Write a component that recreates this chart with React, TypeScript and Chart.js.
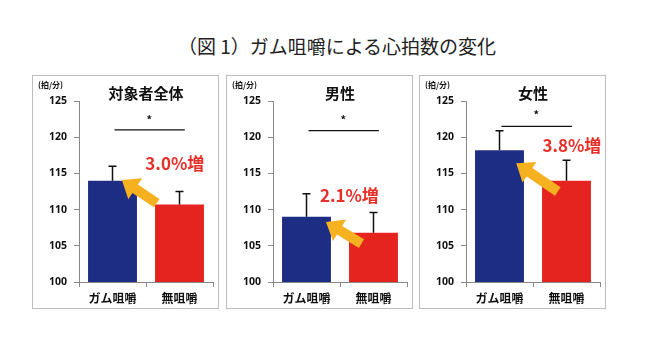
import React, { useEffect, useRef } from "react";
import { Chart, registerables } from "chart.js";

Chart.register(...registerables);

const figureTitle = "（図 1）ガム咀嚼による心拍数の変化";
const panelTitles = ["対象者全体", "男性", "女性"];
const categories = ["ガム咀嚼", "無咀嚼"];
const gumMeans = [114.0, 109.0, 118.2];
const noGumMeans = [110.7, 106.8, 114.0];
const gumErrTop = [116.0, 112.2, 120.9];
const noGumErrTop = [112.5, 109.6, 116.8];
const increaseLabels = ["3.0%増", "2.1%増", "3.8%増"];
const unitLabel = "(拍/分)";
const yMin = 100;
const yMax = 125;
const yStep = 5;
// annotation anchors in data units (category index, value)
const sigLineValue = [121.0, 120.9, 121.5];
const sigStarValue = [122.7, 122.7, 123.4];
const labelAnchorX = [0.93, 0.64, 1.08];
const labelAnchorY = [116.4, 112.0, 118.8];
const arrowTailX = [0.66, 0.82, 0.87];
const arrowTailY = [110.9, 105.3, 112.5];
const arrowTipX = [0.14, 0.29, 0.25];
const arrowTipY = [114.1, 108.3, 116.4];

const BLUE = "#1e2d84";
const RED = "#e52420";
const YELLOW = "#f5b120";
const CJK = "'Noto Sans CJK JP', 'Noto Sans', sans-serif";

const panelLefts = [32, 226, 419];

function Panel({ idx }: { idx: number }) {
  const ref = useRef<HTMLCanvasElement | null>(null);
  useEffect(() => {
    const canvas = ref.current;
    if (!canvas) return;
    const overlay = {
      id: "overlay" + idx,
      afterDatasetsDraw(chart: any) {
        const ctx = chart.ctx;
        const xs = chart.scales.x;
        const ys = chart.scales.y;
        const area = chart.chartArea;
        const meta = chart.getDatasetMeta(0);
        const tops = [gumErrTop[idx], noGumErrTop[idx]];
        ctx.save();
        // error bars
        ctx.strokeStyle = "#111";
        ctx.lineWidth = 1.5;
        meta.data.forEach((bar: any, i: number) => {
          const yTop = ys.getPixelForValue(tops[i]);
          ctx.beginPath();
          ctx.moveTo(bar.x, bar.y);
          ctx.lineTo(bar.x, yTop);
          ctx.moveTo(bar.x - 4, yTop);
          ctx.lineTo(bar.x + 4, yTop);
          ctx.stroke();
        });
        // significance line
        const ly = ys.getPixelForValue(sigLineValue[idx]);
        ctx.lineWidth = 1.3;
        ctx.beginPath();
        ctx.moveTo(xs.getPixelForValue(0.03), ly);
        ctx.lineTo(xs.getPixelForValue(1.08), ly);
        ctx.stroke();
        ctx.fillStyle = "#111";
        ctx.font = "bold 11px " + CJK;
        ctx.textAlign = "center";
        ctx.textBaseline = "middle";
        ctx.fillText("*", xs.getPixelForValue(0.55), ys.getPixelForValue(sigStarValue[idx]) + 2);
        // arrow
        const x1 = xs.getPixelForValue(arrowTailX[idx]);
        const y1 = ys.getPixelForValue(arrowTailY[idx]);
        const x2 = xs.getPixelForValue(arrowTipX[idx]);
        const y2 = ys.getPixelForValue(arrowTipY[idx]);
        const dx = x2 - x1, dy = y2 - y1;
        const len = Math.hypot(dx, dy);
        const ux = dx / len, uy = dy / len;
        const nx = -uy, ny = ux;
        const sw = 10, hw = 25, hl = 16;
        const bx = x2 - ux * hl, by = y2 - uy * hl;
        ctx.fillStyle = YELLOW;
        ctx.beginPath();
        ctx.moveTo(x1 + nx * sw / 2, y1 + ny * sw / 2);
        ctx.lineTo(bx + nx * sw / 2, by + ny * sw / 2);
        ctx.lineTo(bx + nx * hw / 2, by + ny * hw / 2);
        ctx.lineTo(x2, y2);
        ctx.lineTo(bx - nx * hw / 2, by - ny * hw / 2);
        ctx.lineTo(bx - nx * sw / 2, by - ny * sw / 2);
        ctx.lineTo(x1 - nx * sw / 2, y1 - ny * sw / 2);
        ctx.closePath();
        ctx.fill();
        // increase label
        ctx.fillStyle = "#e8302a";
        ctx.font = "bold 17px " + CJK;
        ctx.fillText(increaseLabels[idx], xs.getPixelForValue(labelAnchorX[idx]), ys.getPixelForValue(labelAnchorY[idx]));
        // panel title
        ctx.fillStyle = "#111";
        ctx.font = "bold 15px " + CJK;
        ctx.fillText(panelTitles[idx], (area.left + area.right) / 2, 17);
        // unit label
        ctx.font = "bold 8px " + CJK;
        ctx.textAlign = "left";
        ctx.fillText(unitLabel, 5, 9);
        ctx.restore();
      },
    };
    const chart = new Chart(canvas, {
      type: "bar",
      data: {
        labels: categories,
        datasets: [
          {
            data: [gumMeans[idx], noGumMeans[idx]],
            backgroundColor: [BLUE, RED],
            borderWidth: 0,
            barPercentage: 0.73,
            categoryPercentage: 1,
          },
        ],
      },
      options: {
        responsive: false,
        animation: false,
        devicePixelRatio: 1,
        layout: { padding: { top: 25, right: 5, left: 0, bottom: 0 } },
        plugins: { legend: { display: false }, title: { display: false }, tooltip: { enabled: false } },
        scales: {
          x: {
            offset: true,
            afterFit: (s: any) => { s.height = 26; },
            grid: { display: true, drawOnChartArea: false, drawTicks: true, tickLength: 5, color: "#888", offset: true },
            border: { color: "#888" },
            ticks: { color: "#111", font: { family: CJK, size: 12, weight: "bold" }, padding: 4 },
          },
          y: {
            min: yMin,
            max: yMax,
            afterFit: (s: any) => { s.width = 46; },
            grid: { display: true, drawOnChartArea: false, drawTicks: true, tickLength: 5, color: "#888" },
            border: { color: "#888" },
            ticks: { stepSize: yStep, color: "#111", font: { family: "'Noto Sans', sans-serif", size: 10.5, weight: "bold" }, padding: 7 },
          },
        },
      },
      plugins: [overlay],
    });
    return () => chart.destroy();
  }, [idx]);
  return (
    <div
      style={{
        position: "absolute",
        left: panelLefts[idx],
        top: 75,
        width: 185,
        height: 232,
        border: "1px solid #bdbdbd",
        background: "#fff",
      }}
    >
      <canvas ref={ref} width={185} height={232} style={{ display: "block" }} />
    </div>
  );
}

export default function App() {
  return (
    <div style={{ position: "absolute", left: 0, top: 0, width: 645, height: 342, background: "#fff", overflow: "hidden" }}>
      <div
        style={{
          position: "absolute",
          left: 137,
          top: 35,
          width: 400,
          textAlign: "center",
          fontFamily: CJK,
          fontSize: 19,
          lineHeight: "22px",
          color: "#222",
          whiteSpace: "nowrap",
        }}
      >
        {figureTitle}
      </div>
      {[0, 1, 2].map((i) => (
        <Panel key={i} idx={i} />
      ))}
    </div>
  );
}
